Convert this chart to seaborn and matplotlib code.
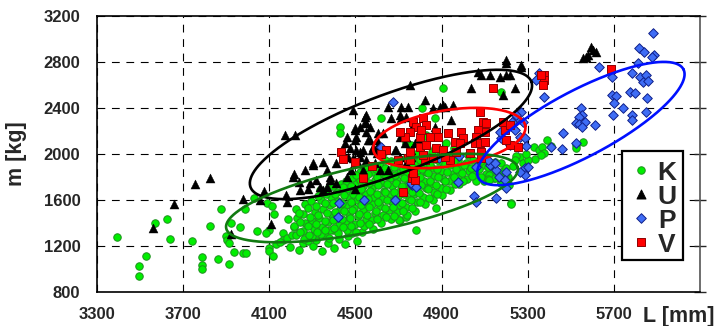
import numpy as np
import pandas as pd
import matplotlib
matplotlib.use("Agg")
import matplotlib.pyplot as plt
from matplotlib.patches import Rectangle
import seaborn as sns

# ---------------- data ----------------
green_pts = [
    (3393,1276),(3493,942),(3493,1026),(3526,1110),(3571,1403),(3625,1435),(3637,1258),(3739,1241),
    (3789,1102),(3789,1035),(3789,997),(3823,1371),(3861,1090),(3877,1519),(3912,1043),(3900,1287),
    (3903,1252),(3911,1223),(3922,1397),(3937,1150),(3962,1363),(3977,1136),(3991,1136),(3988,1519),
    (4027,1615),(4042,1333),(4089,1577),(4112,1548),(4124,1475),(4101,1339),(4086,1310),(4101,1180),
    (4101,1159),(4117,1113),(4132,1215),(4163,1316),(4163,1252),(4182,1267),(4189,1435),(4205,1296),
    (4213,1363),
    (4149,1237),(4196,1192),(4238,1168),(4255,1222),(4281,1247),(4303,1196),(4319,1255),(4345,1158),
    (4358,1296),(4372,1226),(4402,1186),(4397,1339),(4425,1262),(4452,1214),(4466,1288),(4482,1310),
    (4508,1246),(4530,1322),(4783,1339),(4706,1426),(4737,1455),(4876,1528),(5224,1571),
    (4222,1296),(4216,1372),(4231,1441),(4226,1524),
    (4262,1258),(4257,1334),(4268,1402),(4255,1478),(4264,1566),
    (4297,1287),(4306,1349),(4300,1418),(4312,1497),(4294,1592),
    (4338,1304),(4346,1366),(4332,1447),(4349,1521),(4341,1604),(4336,1684),
    (4379,1271),(4384,1338),(4374,1406),(4390,1466),(4381,1553),(4386,1627),(4377,1712),
    (4418,1317),(4426,1383),(4413,1452),(4429,1518),(4421,1594),(4416,1668),(4432,1739),
    (4462,1343),(4455,1414),(4468,1477),(4458,1553),(4471,1622),(4463,1697),(4456,1768),
    (4503,1324),(4497,1392),(4511,1462),(4494,1528),(4506,1603),(4515,1672),(4499,1744),(4508,1818),
    (4538,1372),(4547,1437),(4533,1514),(4544,1579),(4551,1652),(4536,1726),(4545,1797),(4540,1869),
    (4583,1352),(4576,1425),(4590,1488),(4579,1563),(4586,1628),(4575,1703),(4591,1772),(4582,1847),
    (4618,1403),(4627,1468),(4613,1544),(4624,1612),(4631,1677),(4617,1752),(4626,1823),(4612,1898),
    (4663,1437),(4655,1512),(4668,1583),(4659,1648),(4671,1723),(4662,1788),(4654,1862),(4667,1938),
    (4702,1424),(4695,1493),(4708,1557),(4699,1633),(4711,1698),(4694,1772),(4705,1843),(4698,1913),
    (4741,1472),(4736,1543),(4748,1608),(4733,1683),(4745,1748),(4739,1822),(4751,1887),(4737,1962),
    (4778,1507),(4786,1583),(4773,1648),(4784,1723),(4779,1788),(4791,1862),(4775,1928),(4782,2003),
    (4821,1563),(4814,1628),(4827,1703),(4818,1768),(4829,1843),(4815,1908),(4823,1982),
    (4858,1602),(4866,1673),(4853,1738),(4864,1812),(4857,1878),(4869,1953),(4855,2018),
    (4903,1643),(4896,1707),(4909,1782),(4898,1848),(4906,1923),(4894,1988),
    (4941,1688),(4935,1763),(4948,1828),(4937,1903),(4945,1968),
    (4982,1742),(4976,1808),(4989,1883),(4978,1948),
    (5018,1782),(5026,1848),(5013,1923),(5024,1988),
    (5062,1768),(5055,1843),(5068,1908),
    (5098,1762),(5106,1828),(5093,1903),(5104,1968),
    (5142,1793),(5136,1858),(5148,1933),
    (5178,1745),(5186,1852),(5174,1918),
    (4241,1318),(4244,1405),(4238,1490),
    (4283,1292),(4278,1371),(4287,1452),(4281,1530),
    (4322,1321),(4318,1392),(4326,1468),(4316,1552),(4324,1635),
    (4361,1335),(4357,1418),(4366,1487),(4359,1575),(4363,1655),
    (4401,1356),(4397,1428),(4405,1497),(4398,1572),(4404,1648),(4395,1722),
    (4441,1365),(4436,1435),(4445,1503),(4438,1578),(4447,1645),(4442,1716),
    (4481,1372),(4476,1446),(4485,1512),(4479,1586),(4487,1654),(4478,1725),(4484,1792),
    (4521,1398),(4516,1478),(4525,1553),(4518,1625),(4527,1697),(4522,1772),(4519,1845),
    (4561,1392),(4556,1468),(4565,1538),(4558,1605),(4567,1678),(4562,1748),(4557,1822),
    (4601,1438),(4596,1505),(4605,1582),(4598,1650),(4607,1728),(4602,1797),(4597,1872),
    (4641,1455),(4636,1528),(4645,1598),(4638,1668),(4647,1738),(4642,1812),(4637,1882),
    (4681,1462),(4676,1536),(4685,1608),(4678,1673),(4687,1747),(4682,1818),(4677,1890),
    (4721,1503),(4716,1578),(4725,1652),(4718,1722),(4727,1795),(4722,1868),
    (4761,1528),(4756,1603),(4765,1672),(4758,1742),(4767,1812),(4762,1883),(4757,1950),
    (4801,1583),(4796,1657),(4805,1728),(4798,1802),(4807,1872),(4802,1945),
    (4841,1618),(4836,1692),(4845,1762),(4838,1832),(4847,1905),(4842,1970),
    (4881,1652),(4876,1727),(4885,1798),(4878,1870),(4887,1940),
    (4921,1697),(4916,1768),(4925,1842),(4918,1912),
    (4961,1735),(4956,1802),(4965,1872),(4958,1938),
    (5001,1768),(4996,1838),(5005,1905),
    (5041,1812),(5036,1880),(5045,1950),
    (5081,1798),(5076,1866),(5085,1935),
    (5121,1820),(5116,1890),
    (4427,2238),(4427,2186),(4620,2310),(4810,2397),(4868,2310),(4907,2571),(5178,2542),(4734,2093),
    (4830,2165),(4868,2049),(4628,2006),(4636,1948),(4505,1817),(4551,1890),(4822,2157),(4760,2080),
    (4920,2100),(4960,2050),
    (5388,2122),(5327,2058),(5352,2035),(5365,2062),(5378,2006),(5332,1954),(5360,1990),(5410,2070),
    (5526,2078),(5557,2102),(5522,2049),(5262,1977),(5278,1925),(5201,1876),(5208,1803),(5147,1789),
    (5178,1745),(5116,1780),(5213,1730),(5224,1565),(5247,1983),(5301,1948),(5193,1817),(5120,1774),
    (5290,2000),(5240,1950),(5230,1900),
]

black_pts = [
    (3558,1354),(3656,1565),(3756,1739),(3826,1794),(3977,1606),(4055,1600),(4076,1681),(4178,1643),
    (4182,1580),(4213,1826),(4107,1391),(3922,1304),
    (4172,2165),(4219,2165),(4211,1803),(4265,1861),(4288,1745),(4304,1919),(4335,1716),(4366,1861),
    (4381,1803),(4350,1687),(4412,1919),(4451,2093),(4459,2151),(4466,1977),(4481,1861),(4497,2209),
    (4497,2122),(4505,2035),(4520,1977),(4489,2383),(4543,2325),(4551,2267),(4551,2194),(4567,2122),
    (4575,2035),(4512,1919),(4536,1861),(4598,2122),(4598,2064),(4628,2180),(4652,2412),(4667,2310),
    (4683,2035),(4713,2310),(4713,2412),(4737,2151),(4752,2600),(4760,1977),(4706,1977),(4652,1861),
    (4613,1861),(4590,1919),(4551,1948),
    (4822,2470),(4907,2426),(4744,2412),(4861,2397),(4946,2296),(4737,2325),(4551,2339),(4543,2281),
    (4497,2223),(4520,2238),(4567,2238),(4605,2180),(4505,2151),(4559,2122),(4536,2035),(4474,2049),
    (4520,2020),(4690,2035),(4350,1933),(4304,1904),(4598,2006),
    (4891,2412),(4915,2412),(4953,2426),(5038,2571),(5069,2716),(5123,2687),(5084,2687),(5170,2672),
    (5201,2788),(5201,2687),(5216,2687),(5270,2774),(5239,2571),(4706,2339),(4768,2252),(4799,2136),
    (4868,2238),(4775,2093),(4706,2151),(4729,2093),(4760,2035),(4737,1919),
    (5557,2832),(5580,2861),(5603,2904),(5618,2890),(5595,2933),(5572,2846),(5201,2817),(5270,2759),
    (5185,2513),
    (4319,1774),(4242,1687),(4381,1774),(4412,1745),(4459,1803),(4366,1716),(4443,2006),(4489,1963),
    (4582,2064),(4497,1700),(4280,1700),(4240,1760),
]

blue_pts = [
    (5881,3055),(5815,2919),(5839,2884),(5886,2861),(5878,2846),(5631,2760),(5812,2793),(5784,2701),
    (5822,2672),(5850,2687),(5834,2629),(5857,2638),(5773,2542),(5799,2528),(5855,2491),(5693,2672),
    (5693,2513),(5708,2504),(5699,2441),(5742,2397),(5696,2339),(5784,2339),(5784,2296),(5850,2368),
    (5548,2397),(5553,2339),(5537,2319),(5522,2272),(5537,2261),(5564,2281),(5553,2232),(5611,2252),
    (5464,2185),(5460,2041),(5410,2064),(5526,2093),(5352,2701),(5337,2643),(5374,2493),(5270,2368),
    (5247,2310),(5278,2281),(5229,2281),(5239,2209),(5262,2151),(5286,2136),(5178,2136),(5216,2078),
    (5255,2064),(5290,2070),(5286,1876),(5301,1885),(5286,1817),(5262,1846),(5155,1861),(5167,1803),
    (5123,1904),(5147,1919),(5201,1702),(5155,1615),(5059,1890),(4887,1963),(4765,1730),(4981,1983),
    (5049,1638),(5170,2194),(5201,2252),(5116,1948),(5201,1846),(4977,1759),(5193,1774),(5061,1585),
    (4760,1745),(4424,1577),(4539,1600),(4683,1600),(4420,1450),(4783,1716),(4618,2058),(4675,2449),
    (5244,2342),
]

red_pts = [
    (4431,2020),(4443,1954),(4575,1896),(4644,2035),(4698,1948),(4744,1963),(4752,2020),(4768,2281),
    (4783,2238),(4799,2151),(4814,2310),(4799,2064),(4830,2078),(4822,1948),(4876,2194),(4884,2151),
    (4876,2049),(4930,2180),(4907,2035),(4961,2107),(4938,1948),(4861,1963),(4830,2250),
    (5139,2571),(5077,2368),(5092,2281),(5105,2267),(5100,2194),(5069,2209),(5061,2151),(5054,2093),
    (5077,2093),(5100,2107),(4992,2194),(5000,2136),(4984,2093),(4845,2151),(4806,2209),(4752,2194),
    (4729,2151),(4706,2194),(4814,1991),(4752,1948),(4915,1977),(4969,2020),(5031,2006),(5084,2020),
    (5084,1963),(5216,2078),(5185,2281),(5193,2209),(5216,2252),(5201,2122),(5255,2064),(5378,2687),
    (5378,2643),(5371,2600),(5363,2687),(4764,1789),(5688,2736),(4536,1789),(4721,1672),(4775,1774),
    (4768,1832),(4497,1930),(4620,2000),
]

groups = ["K", "U", "P", "V"]

# ellipses: centre and two semi-axis vectors, in data units (L, m)
ell_names   = ["U", "V", "K", "P"]
ell_center  = [(4665, 2170), (4936, 2139), (4577, 1617), (5547, 2265)]
ell_axis_a  = [(652, 459), (353, 104), (677, 263), (476, 472)]
ell_axis_b  = [(65, -325), (20, -241), (31, -281), (72, -254)]

x_ticks = [3300, 3700, 4100, 4500, 4900, 5300, 5700, 6100]
x_tick_labels = ["3300", "3700", "4100", "4500", "4900", "5300", "5700", ""]
y_ticks = [800, 1200, 1600, 2000, 2400, 2800, 3200]

# ---------------- styling ----------------
sns.set_style("white")
plt.rcParams["font.family"] = ["Liberation Sans", "DejaVu Sans"]
plt.rcParams["font.weight"] = "bold"

style = {
    "K": dict(marker="o", s=29, color="#00ee00", edgecolor="#1f8f1f", linewidth=0.7),
    "U": dict(marker="^", s=42, color="black", edgecolor="black", linewidth=0.3),
    "P": dict(marker="D", s=24, color="#3f6df5", edgecolor="#10208a", linewidth=0.7),
    "V": dict(marker="s", s=29, color="#ff0000", edgecolor="#900000", linewidth=0.7),
}
ell_color = {"U": "black", "V": "#ff0000", "K": "#117a11", "P": "#0010ff"}

def frame(pts, g):
    a = np.array(pts, dtype=float)
    return pd.DataFrame({"L": a[:, 0], "m": a[:, 1], "group": g})

df = pd.concat([frame(green_pts, "K"), frame(black_pts, "U"),
                frame(blue_pts, "P"), frame(red_pts, "V")], ignore_index=True)

fig = plt.figure(figsize=(7.2, 3.26), dpi=100)
ax = fig.add_axes([0.1347, 0.1043, 0.8375, 0.8466])

z = {"K": 2, "U": 3, "P": 4, "V": 5}
for g in groups:
    sub = df[df["group"] == g]
    sns.scatterplot(data=sub, x="L", y="m", ax=ax, legend=False, zorder=z[g], **style[g])

t = np.linspace(0, 2 * np.pi, 400)
for name, c, a, b in zip(ell_names, ell_center, ell_axis_a, ell_axis_b):
    xs = c[0] + a[0] * np.cos(t) + b[0] * np.sin(t)
    ys = c[1] + a[1] * np.cos(t) + b[1] * np.sin(t)
    ax.plot(xs, ys, color=ell_color[name], lw=1.9, zorder=6)

ax.set_xlim(3300, 6100)
ax.set_ylim(800, 3200)
ax.set_xticks(x_ticks)
ax.set_xticklabels(x_tick_labels)
ax.set_yticks(y_ticks)
ax.grid(True, color="black", linestyle=(0, (7, 6)), linewidth=0.8, zorder=0)
ax.set_axisbelow(True)

for side in ["left", "bottom", "top"]:
    ax.spines[side].set_color("black")
    ax.spines[side].set_linewidth(1.2)
ax.spines["right"].set_color("#555555")
ax.spines["right"].set_linewidth(1.2)

ax.tick_params(axis="x", direction="out", length=5, width=1, pad=6, labelsize=12)
ax.tick_params(axis="y", direction="inout", length=8, width=1, pad=8, labelsize=12,
               right=True)
for lab in ax.get_xticklabels() + ax.get_yticklabels():
    lab.set_fontweight("bold")

ax.set_xlabel("")
ax.set_ylabel("m [kg]", fontsize=15.5, fontweight="bold", labelpad=12)
ax.text(0.965, -0.088, "L [mm]", transform=ax.transAxes, ha="center", va="center",
        fontsize=15.5, fontweight="bold")

# legend box drawn in axes coordinates
ax.add_patch(Rectangle((0.871, 0.116), 0.101, 0.395, transform=ax.transAxes,
                       facecolor="white", edgecolor="black", linewidth=1.6,
                       zorder=10, clip_on=False))
leg_y = [0.442, 0.355, 0.268, 0.181]
for g, yy in zip(groups, leg_y):
    st = style[g]
    ax.scatter([0.902], [yy], transform=ax.transAxes, marker=st["marker"], s=st["s"],
               color=st["color"], edgecolor=st["edgecolor"], linewidth=0.7,
               zorder=11, clip_on=False)
    ax.text(0.945, yy, g, transform=ax.transAxes, ha="center", va="center_baseline",
            fontsize=19, fontweight="bold", zorder=12)

fig.savefig("out.png", dpi=100)
